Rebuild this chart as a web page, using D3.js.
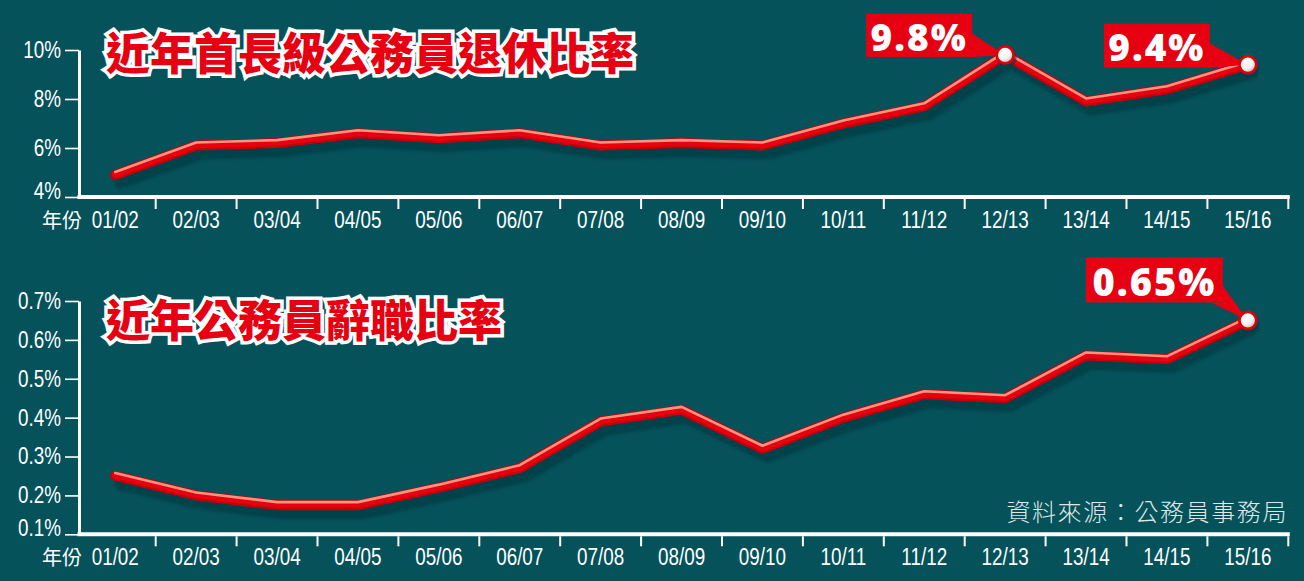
<!DOCTYPE html>
<html><head><meta charset="utf-8">
<script src="https://cdnjs.cloudflare.com/ajax/libs/d3/7.8.5/d3.min.js"></script>
<style>
html,body{margin:0;padding:0;background:#05525b;}
svg{display:block;}
</style></head>
<body>
<svg id="chart" width="1304" height="581"></svg>
<script>
// ---------- data ----------
const years = ["01/02","02/03","03/04","04/05","05/06","06/07","07/08","08/09","09/10","10/11","11/12","12/13","13/14","14/15","15/16"];
const retireRates = [4.9,6.1,6.2,6.6,6.4,6.6,6.1,6.2,6.1,7.0,7.7,9.8,7.9,8.4,9.4];
const resignRates = [0.25,0.20,0.175,0.175,0.22,0.27,0.39,0.42,0.32,0.40,0.46,0.45,0.56,0.55,0.65];
const retireTicks = [4,6,8,10];
const retireTickLabels = ["4%","6%","8%","10%"];
const resignTicks = [0.1,0.2,0.3,0.4,0.5,0.6,0.7];
const resignTickLabels = ["0.1%","0.2%","0.3%","0.4%","0.5%","0.6%","0.7%"];
const retireTitle = "近年首長級公務員退休比率";
const resignTitle = "近年公務員辭職比率";
const retireCallouts = [{year:"12/13", label:"9.8%"},{year:"15/16", label:"9.4%"}];
const resignCallouts = [{year:"15/16", label:"0.65%"}];
const yearAxisLabel = "年份";
const sourceText = "資料來源：公務員事務局";

// ---------- layout ----------
const svg = d3.select("#chart");
const W = 1304, H = 581;
const NARROW = 0.82;
const labelFont = "'Liberation Sans','Arial',sans-serif";
svg.append("rect").attr("width",W).attr("height",H).attr("fill","#05525b");

const defs = svg.append("defs");
const rg = defs.append("radialGradient").attr("id","dotGrad").attr("cx","40%").attr("cy","35%").attr("r","65%");
rg.append("stop").attr("offset","0%").attr("stop-color","#ffffff");
rg.append("stop").attr("offset","60%").attr("stop-color","#f2f2f2");
rg.append("stop").attr("offset","100%").attr("stop-color","#b9b9b9");
const blur = defs.append("filter").attr("id","soft").attr("x","-5%").attr("y","-20%").attr("width","110%").attr("height","140%");
blur.append("feGaussianBlur").attr("stdDeviation",1.6);

const axisX = 79;
const x = d3.scaleBand().domain(years).range([74.8, 1288.3]).padding(0);
const bw = x.bandwidth();

function panel(cfg){
  const g = svg.append("g");
  const y = d3.scaleLinear().domain(cfg.domain).range(cfg.range);
  const axisY = cfg.range[0];

  // title
  g.append("text")
    .attr("x", cfg.titleX).attr("y", cfg.titleY)
    .attr("dominant-baseline","central")
    .attr("font-family","'Noto Sans CJK TC','Noto Sans CJK SC',sans-serif")
    .attr("font-weight",900).attr("font-size",44)
    .attr("fill","#e60012").attr("stroke","#ffffff").attr("stroke-width",7)
    .attr("stroke-linejoin","miter").attr("paint-order","stroke")
    .text(cfg.title);

  // y axis
  const ya = g.append("g").attr("transform",`translate(${axisX},0)`)
    .call(d3.axisLeft(y).tickValues(cfg.ticks).tickSize(14).tickSizeOuter(0).tickPadding(4)
      .tickFormat((d,i)=>cfg.tickLabels[i]));
  ya.select(".domain").attr("stroke","#fff").attr("stroke-width",3);
  ya.selectAll(".tick line").attr("stroke","#fff").attr("stroke-width",1.6);
  ya.selectAll(".tick text").attr("fill","#fff").attr("font-size",23).attr("font-family",labelFont)
    .attr("x",-18/NARROW).attr("transform",`scale(${NARROW},1)`)
    .attr("dy",(d,i)=> i===0 ? "0.05em" : "0.32em");

  // x axis
  const xa = g.append("g").attr("transform",`translate(0,${axisY})`)
    .call(d3.axisBottom(x).tickSize(0).tickSizeOuter(0));
  xa.select(".domain").remove();
  xa.selectAll(".tick text").attr("fill","#fff").attr("font-size",23).attr("font-family",labelFont)
    .attr("transform",`scale(${NARROW},1)`).attr("y",23).attr("dy","0.35em");
  g.append("line").attr("x1",axisX-1.5).attr("x2",x.range()[1]+1.5)
    .attr("y1",axisY).attr("y2",axisY).attr("stroke","#fff").attr("stroke-width",4);
  g.append("g").selectAll("line").data(years).join("line")
    .attr("x1",d=>x(d)+bw).attr("x2",d=>x(d)+bw)
    .attr("y1",axisY+2).attr("y2",axisY+12)
    .attr("stroke","#fff").attr("stroke-width",2);
  g.append("text").attr("x",62).attr("y",axisY+22).attr("dominant-baseline","central")
    .attr("text-anchor","middle").attr("fill","#fff").attr("font-size",20)
    .attr("font-family","'Noto Sans CJK TC',sans-serif").text(yearAxisLabel);

  // line
  const pts = years.map((yr,i)=>({yr, v: cfg.values[i]}));
  const line = d3.line().x(d=>x(d.yr)+bw/2).y(d=>y(d.v));
  const dStr = line(pts);
  const lg = g.append("g").attr("fill","none").attr("stroke-linecap","round").attr("stroke-linejoin","round");
  lg.append("path").attr("d",dStr).attr("transform","translate(5,8)").attr("filter","url(#soft)")
    .attr("stroke","#023a42").attr("stroke-width",12).attr("opacity",0.7);
  lg.append("path").attr("d",dStr).attr("stroke","#c4000b").attr("stroke-width",10);
  lg.append("path").attr("d",dStr).attr("transform","translate(0,-0.8)").attr("stroke","#e8000e").attr("stroke-width",7);
  lg.append("path").attr("d",dStr).attr("transform","translate(0,-3)").attr("stroke","#f6a48c").attr("stroke-width",2.6).attr("opacity",0.9);

  // callouts
  cfg.callouts.forEach((c,k)=>{
    const i = years.indexOf(c.year);
    const px = x(c.year)+bw/2, py = y(cfg.values[i]);
    const o = cfg.boxOffsets[k];
    const bx = px + o.dx, by = py + o.dy;
    const cg = g.append("g");
    cg.append("path").attr("d", `M${bx+o.w-1},${by+o.p1}L${bx+o.w-1},${by+o.h}L${bx+o.w+o.p2x},${by+o.h}L${px},${py}Z`)
      .attr("fill","#e60012");
    cg.append("rect").attr("x",bx).attr("y",by).attr("width",o.w).attr("height",o.h).attr("fill","#e60012");
    cg.append("text").attr("x",bx+o.w/2).attr("y",by+o.h/2+1).attr("text-anchor","middle")
      .attr("dominant-baseline","central").attr("fill","#fff")
      .attr("font-family","'Open Sans','Lato',sans-serif").attr("font-weight",800)
      .attr("font-size",o.fs).attr("letter-spacing",2).text(c.label);
    cg.append("circle").attr("cx",px+1.5).attr("cy",py+2.5).attr("r",10).attr("fill","#033f47").attr("opacity",0.6);
    cg.append("circle").attr("cx",px).attr("cy",py).attr("r",8.5)
      .attr("fill","url(#dotGrad)").attr("stroke","#dc000c").attr("stroke-width",2.8);
  });
}

panel({domain:[4,10], range:[197,50], ticks:retireTicks, tickLabels:retireTickLabels,
  values:retireRates, title:retireTitle, titleX:106, titleY:51, callouts:retireCallouts,
  boxOffsets:[{dx:-139,dy:-41,w:106,h:43,p1:19,p2x:0,fs:37},{dx:-144,dy:-41,w:106,h:44,p1:19,p2x:0,fs:37}]});
panel({domain:[0.1,0.7], range:[534.3,301], ticks:resignTicks, tickLabels:resignTickLabels,
  values:resignRates, title:resignTitle, titleX:106, titleY:318, callouts:resignCallouts,
  boxOffsets:[{dx:-162,dy:-63,w:137,h:45,p1:27,p2x:-12,fs:38}]});

svg.append("text").attr("x",1288).attr("y",510).attr("text-anchor","end")
  .attr("dominant-baseline","central").attr("fill","#dfe6e6")
  .attr("font-family","'Noto Sans CJK TC',serif").attr("font-weight",300)
  .attr("font-size",24).attr("letter-spacing",1.6).text(sourceText);
</script>
</body></html>
